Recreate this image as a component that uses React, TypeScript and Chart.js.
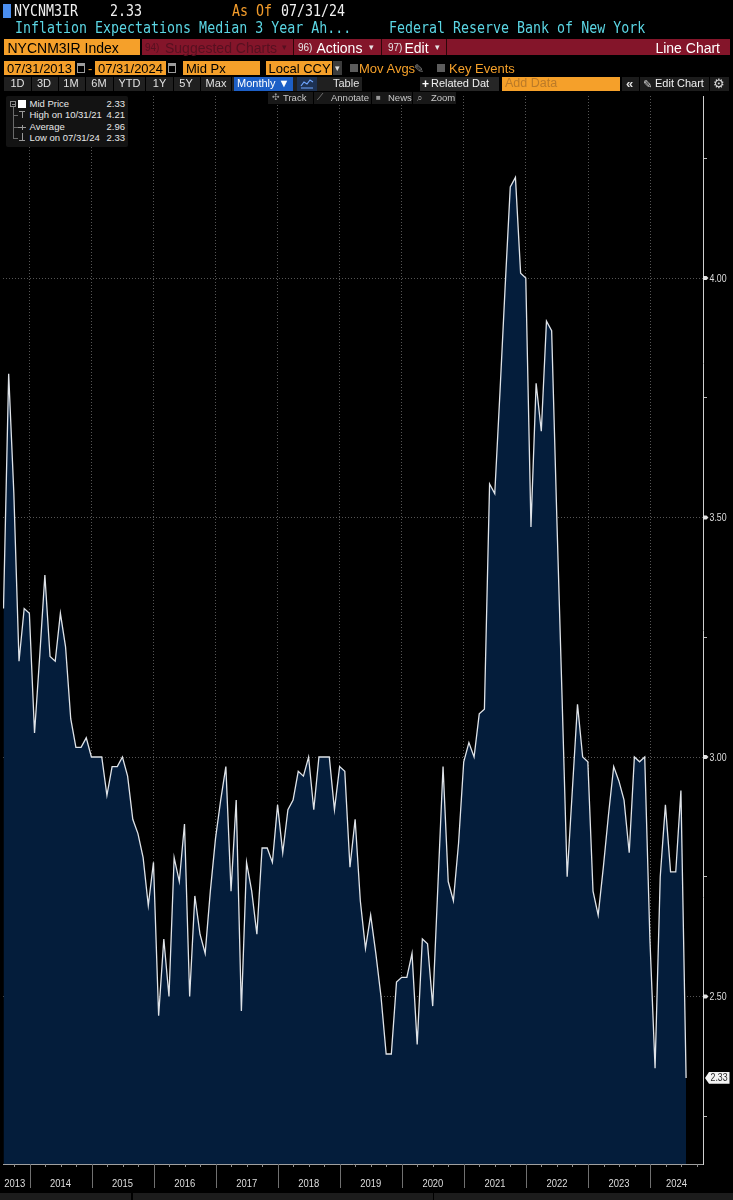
import React, { useEffect, useRef } from 'react';
import { Chart, registerables } from 'chart.js';

Chart.register(...registerables);

// ---------------- data ----------------
const seriesTicker = 'NYCNM3IR';
const seriesTitle = 'Inflation Expectations Median 3 Year Ah...';
const sourceName = 'Federal Reserve Bank of New York';
const firstYear = 2013;
const firstMonth = 7; // month-end observations from 07/31/2013

const values: number[] = [
  3.31, 3.80, 3.55, 3.20, 3.31, 3.30, 3.05, 3.21, 3.38, 3.21,
  3.20, 3.30, 3.23, 3.08, 3.02, 3.02, 3.04, 3.00, 3.00, 3.00,
  2.92, 2.98, 2.98, 3.00, 2.96, 2.87, 2.84, 2.79, 2.69, 2.78,
  2.46, 2.62, 2.50, 2.79, 2.74, 2.86, 2.50, 2.71, 2.63, 2.59,
  2.72, 2.83, 2.91, 2.98, 2.72, 2.91, 2.47, 2.78, 2.72, 2.63,
  2.81, 2.81, 2.78, 2.90, 2.80, 2.89, 2.91, 2.97, 2.96, 3.00,
  2.89, 3.00, 3.00, 3.00, 2.89, 2.98, 2.97, 2.77, 2.87, 2.70,
  2.60, 2.67, 2.59, 2.50, 2.38, 2.38, 2.53, 2.54, 2.54, 2.59,
  2.40, 2.62, 2.61, 2.48, 2.73, 2.98, 2.74, 2.70, 2.82, 2.99,
  3.03, 3.00, 3.09, 3.10, 3.57, 3.55, 3.76, 3.98, 4.19, 4.21,
  4.01, 4.00, 3.48, 3.78, 3.68, 3.91, 3.89, 3.50, 3.13, 2.75,
  2.93, 3.11, 3.00, 2.99, 2.72, 2.67, 2.77, 2.88, 2.98, 2.95,
  2.91, 2.80, 3.00, 2.99, 3.00, 2.62, 2.35, 2.75, 2.90, 2.76,
  2.76, 2.93, 2.33,
];

const yearLabels = ['2013', '2014', '2015', '2016', '2017', '2018', '2019', '2020', '2021', '2022', '2023', '2024'];
const yTickValues = [2.25, 2.5, 2.75, 3.0, 3.25, 3.5, 3.75, 4.0, 4.25];
const yLabelValues = [2.5, 3.0, 3.5, 4.0];
const periodButtons = ['1D', '3D', '1M', '6M', 'YTD', '1Y', '5Y', 'Max'];
const dateFrom = '07/31/2013';
const dateTo = '07/31/2024';

// ---------------- helpers ----------------
const X_MIN = -0.097;
const X_MAX = 135.27;
const Y_MIN = 2.1503;
const Y_MAX = 4.38;

const yearStart = (yr: number) => (yr - firstYear) * 12 - firstMonth + 1 / 31;
const dateOf = (i: number) => {
  const total = firstMonth - 1 + i;
  const y = firstYear + Math.floor(total / 12);
  const m = (total % 12) + 1;
  const d = new Date(y, m, 0).getDate();
  const p = (n: number) => String(n).padStart(2, '0');
  return `${p(m)}/${p(d)}/${String(y).slice(2)}`;
};
const isMajor = (v: number) => yLabelValues.some((l) => Math.abs(l - v) < 1e-6);

const last = values[values.length - 1];
let hiIdx = 0;
let loIdx = 0;
values.forEach((v, i) => {
  if (v >= values[hiIdx]) hiIdx = i;
  if (v <= values[loIdx]) loIdx = i;
});
const avg = values.reduce((a, b) => a + b, 0) / values.length;

const MONO = "'DejaVu Sans Mono', 'Liberation Mono', monospace";
const SANS = "'Liberation Sans', Arial, sans-serif";
const NARROW = "'Liberation Sans Narrow', 'Liberation Sans', Arial, sans-serif";
const ORANGE = '#f5a02a';
const RED = '#84152a';
const CYAN = '#5bd6e4';

// condensed canvas text
function cText(ctx: CanvasRenderingContext2D, s: string, x: number, y: number, sx: number) {
  ctx.save();
  ctx.translate(x, y);
  ctx.scale(sx, 1);
  ctx.fillText(s, 0, 0);
  ctx.restore();
}

// ---------------- chart plugin ----------------
const decorPlugin = {
  id: 'decor',
  afterDraw(chart: any) {
    const { ctx, chartArea, scales } = chart;
    const xs = scales.x;
    const ys = scales.y;
    const bottom = chartArea.bottom;
    ctx.save();
    // quarterly ticks and year separators under the x axis
    for (let yr = firstYear; yr <= firstYear + yearLabels.length; yr++) {
      for (let q = 0; q < 4; q++) {
        const px = xs.getPixelForValue(yearStart(yr) + q * 3);
        if (px < chartArea.left - 0.5 || px > chartArea.right + 0.5) continue;
        const X = Math.round(px) + 0.5;
        ctx.strokeStyle = q === 0 ? '#707070' : '#8c8c8c';
        ctx.lineWidth = 1;
        ctx.beginPath();
        ctx.moveTo(X, bottom);
        ctx.lineTo(X, bottom + (q === 0 ? 24 : 3));
        ctx.stroke();
      }
    }
    // year labels centered in their visible spans
    ctx.font = `11.5px ${SANS}`;
    ctx.fillStyle = '#dedede';
    ctx.textAlign = 'center';
    ctx.textBaseline = 'alphabetic';
    yearLabels.forEach((lbl) => {
      const yr = Number(lbl);
      const a = Math.max(xs.getPixelForValue(yearStart(yr)), chartArea.left - 3);
      const b = Math.min(xs.getPixelForValue(yearStart(yr + 1)), chartArea.right);
      cText(ctx, lbl, (a + b) / 2, bottom + 22.7, 0.82);
    });
    // y labels and major tick flags
    ctx.font = `11px ${SANS}`;
    ctx.textAlign = 'left';
    ctx.textBaseline = 'middle';
    yLabelValues.forEach((v) => {
      const y = ys.getPixelForValue(v);
      const x0 = chartArea.right;
      ctx.fillStyle = '#e4e4e4';
      ctx.beginPath();
      ctx.moveTo(x0, y - 2);
      ctx.lineTo(x0 + 3.5, y - 2);
      ctx.lineTo(x0 + 5.5, y);
      ctx.lineTo(x0 + 3.5, y + 2);
      ctx.lineTo(x0, y + 2);
      ctx.closePath();
      ctx.fill();
      ctx.fillStyle = '#dcdcdc';
      cText(ctx, v.toFixed(2), x0 + 6.5, y + 0.5, 0.8);
    });
    // last value tag
    const ly = ys.getPixelForValue(last);
    const lx = chartArea.right + 2;
    ctx.fillStyle = '#f4f4f4';
    ctx.beginPath();
    ctx.moveTo(lx, ly);
    ctx.lineTo(lx + 4, ly - 5.9);
    ctx.lineTo(lx + 24.5, ly - 5.9);
    ctx.lineTo(lx + 24.5, ly + 5.9);
    ctx.lineTo(lx + 4, ly + 5.9);
    ctx.closePath();
    ctx.fill();
    ctx.fillStyle = '#2a2a2a';
    cText(ctx, last.toFixed(2), lx + 5.5, ly + 0.5, 0.8);
    ctx.restore();
  },
};

// ---------------- small UI helpers ----------------
type TP = {
  x?: number;
  right?: number;
  base: number;
  size: number;
  color?: string;
  family?: string;
  weight?: number | string;
  children: React.ReactNode;
};
function T({ x, right, base, size, color = '#fff', family = SANS, weight, children }: TP) {
  const top = base - 0.8465 * size;
  const style: React.CSSProperties = {
    position: 'absolute',
    top,
    fontFamily: family,
    fontSize: size,
    lineHeight: `${size}px`,
    color,
    whiteSpace: 'pre',
    fontWeight: weight as any,
  };
  if (right !== undefined) style.right = right;
  else style.left = x;
  return <div style={style}>{children}</div>;
}
function M({ x, base, color, children }: { x: number; base: number; color: string; children: React.ReactNode }) {
  const size = 13.3;
  const off = 0.846 * size;
  return (
    <div
      style={{
        position: 'absolute',
        left: x,
        top: base - off,
        fontFamily: MONO,
        fontSize: size,
        lineHeight: `${size}px`,
        color,
        whiteSpace: 'pre',
        transform: 'scaleY(1.18)',
        transformOrigin: `0 ${off}px`,
      }}
    >
      {children}
    </div>
  );
}
function Box({ x, y, w, h, bg, style }: { x: number; y: number; w: number; h: number; bg: string; style?: React.CSSProperties }) {
  return <div style={{ position: 'absolute', left: x, top: y, width: w, height: h, background: bg, ...style }} />;
}
function Cal({ x }: { x: number }) {
  return (
    <div
      style={{
        position: 'absolute',
        left: x,
        top: 63,
        width: 8,
        height: 10,
        boxSizing: 'border-box',
        border: '1px solid #9c9c9c',
        borderTop: '3px solid #9c9c9c',
      }}
    />
  );
}

const btnCenters = [17.5, 44, 71, 99, 129.5, 159.5, 186, 216];
const btnSeps = [31, 58, 85, 113, 145, 173, 200, 231];

export default function App() {
  const ref = useRef<HTMLCanvasElement>(null);

  useEffect(() => {
    document.body.style.margin = '0';
    document.body.style.background = '#000';
    const chart = new Chart(ref.current as HTMLCanvasElement, {
      type: 'line',
      data: {
        datasets: [
          {
            label: 'Mid Price',
            data: values.map((v, i) => ({ x: i, y: v })),
            borderColor: '#dfe3e8',
            borderWidth: 1.3,
            backgroundColor: '#041d3b',
            fill: 'start',
            pointRadius: 0,
            tension: 0,
          },
        ],
      },
      options: {
        responsive: false,
        animation: false,
        devicePixelRatio: 1,
        layout: { padding: { left: 3, top: 96, right: 0, bottom: 0 } },
        plugins: { legend: { display: false }, tooltip: { enabled: false } },
        scales: {
          x: {
            type: 'linear',
            min: X_MIN,
            max: X_MAX,
            z: 1,
            afterBuildTicks: (scale: any) => {
              scale.ticks = yearLabels.slice(1).map((l) => ({ value: yearStart(Number(l)) }));
            },
            afterFit: (scale: any) => {
              scale.height = 36;
            },
            ticks: { display: false },
            grid: { color: '#555555', lineWidth: 1, drawTicks: false },
            border: { display: true, color: '#a0a0a0', width: 1, dash: [1, 2] },
          },
          y: {
            type: 'linear',
            position: 'right',
            min: Y_MIN,
            max: Y_MAX,
            z: 1,
            afterBuildTicks: (scale: any) => {
              scale.ticks = yTickValues.map((v) => ({ value: v }));
            },
            afterFit: (scale: any) => {
              scale.width = 30;
            },
            ticks: {
              autoSkip: false,
              padding: 2.5,
              color: '#d6d6d6',
              font: { family: SANS, size: 10 },
              callback: () => '',
            },
            grid: {
              color: (c: any) => (c.tick && isMajor(c.tick.value) ? '#555555' : 'rgba(0,0,0,0)'),
              lineWidth: 1,
              drawTicks: true,
              tickLength: 4,
              tickColor: '#bdbdbd',
              tickBorderDash: [],
            },
            border: { display: true, color: '#cfcfcf', width: 1, dash: [1, 2] },
          },
        },
      },
      plugins: [decorPlugin],
    } as any);
    return () => chart.destroy();
  }, []);

  return (
    <div style={{ position: 'relative', width: 733, height: 1200, background: '#000', overflow: 'hidden', fontFamily: SANS }}>
      <canvas ref={ref} width={733} height={1200} style={{ position: 'absolute', left: 0, top: 0, width: 733, height: 1200 }} />

      {/* row 1 */}
      <Box x={3} y={4} w={8} h={14} bg="#4a8ef0" />
      <M x={14} base={16.7} color="#f2f2f2">{seriesTicker}</M>
      <M x={110} base={16.7} color="#f2f2f2">{last.toFixed(2)}</M>
      <M x={232} base={16.7} color="#f39c2b">As Of</M>
      <M x={281} base={16.7} color="#f2f2f2">{dateOf(values.length - 1)}</M>

      {/* row 2 */}
      <M x={15} base={33.3} color={CYAN}>{seriesTitle}</M>
      <M x={389} base={33.3} color={CYAN}>{sourceName}</M>

      {/* row 3 */}
      <Box x={4} y={39} w={136} h={16} bg={ORANGE} />
      <T x={7.5} base={52.7} size={14} color="#000">{`${seriesTicker} Index`}</T>
      <Box x={142} y={39} w={588} h={16} bg={RED} />
      <Box x={293} y={39} w={1} h={16} bg="#2c0609" />
      <Box x={381} y={39} w={1} h={16} bg="#2c0609" />
      <Box x={446} y={39} w={1} h={16} bg="#2c0609" />
      <T x={145} base={51.7} size={10} color="#561020" family={NARROW}>94)</T>
      <T x={165} base={52.7} size={14} color="#561020">Suggested Charts</T>
      <T x={282} base={51} size={9} color="#561020">▾</T>
      <T x={298} base={51.7} size={10} color="#e6e6e6" family={NARROW}>96)</T>
      <T x={316.5} base={52.7} size={14} color="#ffffff">Actions</T>
      <T x={369} base={51} size={9} color="#e6e6e6">▾</T>
      <T x={388} base={51.7} size={10} color="#e6e6e6" family={NARROW}>97)</T>
      <T x={404.5} base={52.7} size={14} color="#ffffff">Edit</T>
      <T x={435} base={51} size={9} color="#e6e6e6">▾</T>
      <T right={733 - 720} base={52.7} size={14} color="#ffffff">Line Chart</T>

      {/* row 4 */}
      <Box x={4} y={61} w={71} h={14} bg={ORANGE} />
      <T x={7} base={73.3} size={13} color="#000">{dateFrom}</T>
      <Cal x={76.5} />
      <T x={88} base={73.3} size={13} color={ORANGE}>-</T>
      <Box x={95} y={61} w={71} h={14} bg={ORANGE} />
      <T x={98} base={73.3} size={13} color="#000">{dateTo}</T>
      <Cal x={167.5} />
      <Box x={183} y={61} w={77} h={14} bg={ORANGE} />
      <T x={186} base={73.3} size={13} color="#000">Mid Px</T>
      <Box x={266} y={61} w={66} h={14} bg={ORANGE} />
      <T x={268.5} base={73.3} size={13} color="#000">Local CCY</T>
      <Box x={333} y={61} w={9} h={14} bg="#3c3c3c" />
      <T x={334.5} base={71.5} size={9} color="#e0e0e0">▾</T>
      <Box x={350} y={64} w={8} h={8} bg="#5c5c5c" />
      <T x={359} base={73.3} size={13} color={ORANGE}>Mov Avgs</T>
      <T x={414} base={73} size={12} color="#8a8a8a">✎</T>
      <Box x={437} y={64} w={8} h={8} bg="#5c5c5c" />
      <T x={449} base={73.3} size={13} color={ORANGE}>Key Events</T>

      {/* row 5 */}
      <Box x={4} y={76.5} w={358} h={14.5} bg="#202020" />
      {btnSeps.map((s) => (
        <Box key={s} x={s} y={76.5} w={1} h={14.5} bg="#000" />
      ))}
      {periodButtons.map((b, i) => (
        <div
          key={b}
          style={{
            position: 'absolute',
            left: btnCenters[i] - 20,
            width: 40,
            textAlign: 'center',
            top: 87.3 - 0.8465 * 11,
            fontSize: 11,
            lineHeight: '11px',
            color: '#e2e2e2',
            fontFamily: SANS,
          }}
        >
          {b}
        </div>
      ))}
      <Box x={234} y={76.5} w={59} h={14.5} bg="#1d5fc6" />
      <T x={237} base={87.3} size={11} color="#ffffff">Monthly ▼</T>
      <Box x={297} y={76.5} w={20} h={14.5} bg="#1d3152" />
      <svg style={{ position: 'absolute', left: 300, top: 78 }} width={14} height={11}>
        <polyline points="1,8 4,4 7,6 10,2 13,4" fill="none" stroke="#6fa6ff" strokeWidth={1.2} />
        <line x1={1} y1={10} x2={13} y2={10} stroke="#6fa6ff" strokeWidth={1} />
      </svg>
      <T x={333} base={87.3} size={11} color="#e2e2e2">Table</T>
      <Box x={420} y={76.5} w={79} h={14.5} bg="#262626" />
      <T x={422} base={87.8} size={12} color="#ffffff" weight="bold">+</T>
      <T x={431} base={87.3} size={11} color="#f0f0f0">Related Dat</T>
      <Box x={502} y={77} w={118} h={14} bg={ORANGE} />
      <T x={505} base={87.8} size={12.5} color="#bb7a28">Add Data</T>
      <Box x={622} y={76.5} w={107} h={14.5} bg="#1c1c1c" />
      <T x={626} base={88} size={13} color="#e0e0e0" weight="bold">«</T>
      <Box x={639} y={76.5} w={1} h={14.5} bg="#000" />
      <T x={643} base={88} size={11} color="#d0d0d0">✎</T>
      <T x={655} base={87.3} size={11} color="#f0f0f0">Edit Chart</T>
      <Box x={709} y={76.5} w={1} h={14.5} bg="#000" />
      <T x={713} base={88.5} size={13} color="#d8d8d8">⚙</T>

      {/* row 6 */}
      <Box x={268} y={91.5} w={188} h={12.5} bg="#181818" />
      <Box x={313} y={91.5} w={1} h={12.5} bg="#000" />
      <Box x={371} y={91.5} w={1} h={12.5} bg="#000" />
      <Box x={412} y={91.5} w={1} h={12.5} bg="#000" />
      <T x={272} base={101} size={9} color="#9a9a9a">✣</T>
      <T x={283} base={101} size={9.5} color="#c8c8c8">Track</T>
      <T x={317} base={101} size={9} color="#9a9a9a">⟋</T>
      <T x={331} base={101} size={9.5} color="#c8c8c8">Annotate</T>
      <T x={376} base={100.5} size={8} color="#9a9a9a">■</T>
      <T x={388} base={101} size={9.5} color="#c8c8c8">News</T>
      <T x={417} base={101} size={9.5} color="#9a9a9a">⌕</T>
      <T x={431} base={101} size={9.5} color="#c8c8c8">Zoom</T>

      {/* legend box */}
      <Box x={6} y={96} w={122} h={51} bg="#131313" style={{ borderRadius: 2 }} />
      <Box x={10} y={101} w={6} h={6} bg="transparent" style={{ border: '1px solid #8a8a8a', boxSizing: 'border-box' }} />
      <Box x={11.5} y={103.5} w={3} h={1} bg="#8a8a8a" />
      <Box x={12.5} y={107} w={1} h={31} bg="#6a6a6a" />
      <Box x={12.5} y={115} w={5} h={1} bg="#6a6a6a" />
      <Box x={12.5} y={127} w={5} h={1} bg="#6a6a6a" />
      <Box x={12.5} y={138} w={5} h={1} bg="#6a6a6a" />
      <Box x={18} y={100} w={8} h={8} bg="#ffffff" />
      <Box x={19} y={111} w={6} h={1} bg="#9a9a9a" />
      <Box x={21.5} y={111} w={1} h={7} bg="#9a9a9a" />
      <Box x={18} y={127} w={8} h={1} bg="#9a9a9a" />
      <Box x={21.5} y={125} w={1} h={5} bg="#9a9a9a" />
      <Box x={21.5} y={133} w={1} h={7} bg="#9a9a9a" />
      <Box x={19} y={140} w={6} h={1} bg="#9a9a9a" />
      <T x={29.5} base={107.3} size={9.5} color="#e8e8e8">Mid Price</T>
      <T right={733 - 125} base={107.3} size={9.5} color="#e8e8e8">{last.toFixed(2)}</T>
      <T x={29.5} base={118.5} size={9.5} color="#e8e8e8">{`High on ${dateOf(hiIdx)}`}</T>
      <T right={733 - 125} base={118.5} size={9.5} color="#e8e8e8">{values[hiIdx].toFixed(2)}</T>
      <T x={29.5} base={130} size={9.5} color="#e8e8e8">Average</T>
      <T right={733 - 125} base={130} size={9.5} color="#e8e8e8">{avg.toFixed(2)}</T>
      <T x={29.5} base={141} size={9.5} color="#e8e8e8">{`Low on ${dateOf(loIdx)}`}</T>
      <T right={733 - 125} base={141} size={9.5} color="#e8e8e8">{values[loIdx].toFixed(2)}</T>

      {/* bottom status strip */}
      <Box x={0} y={1192.5} w={131} h={7.5} bg="#1c1c1c" />
      <Box x={132.5} y={1192.5} w={300} h={7.5} bg="#1c1c1c" />
      <Box x={434} y={1192.5} w={299} h={7.5} bg="#1c1c1c" />
    </div>
  );
}
